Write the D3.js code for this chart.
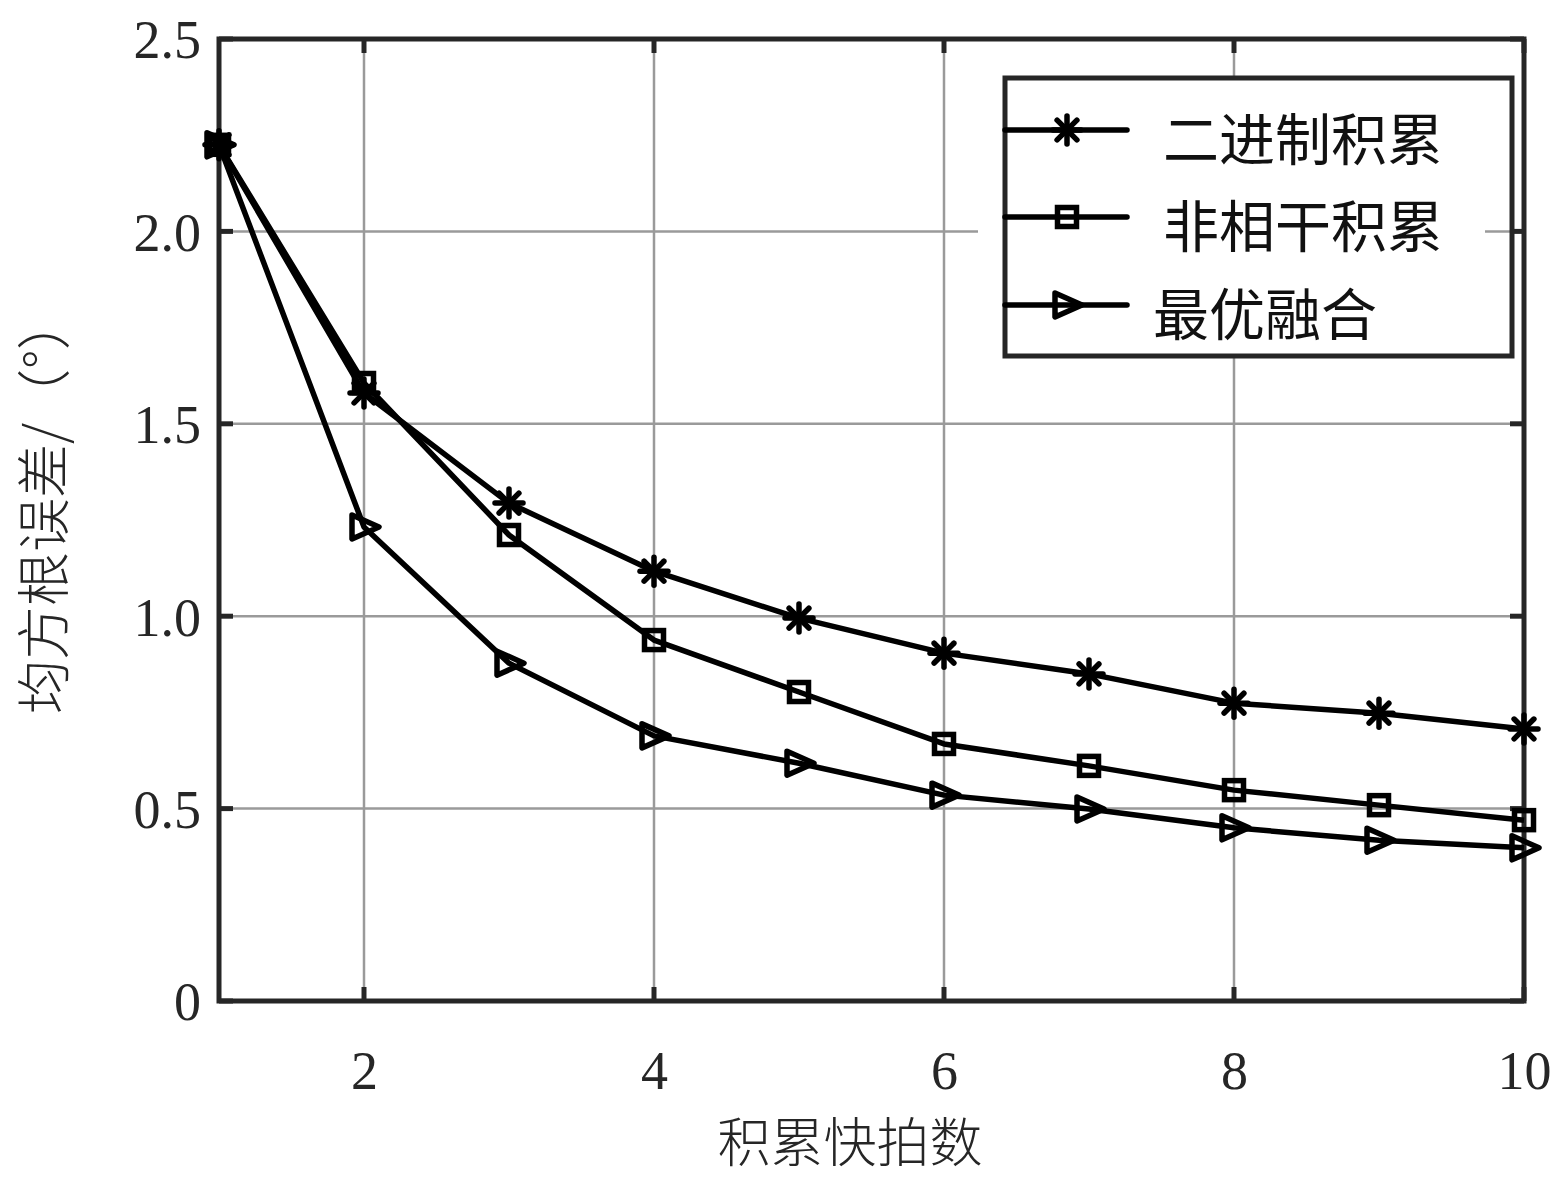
<!DOCTYPE html>
<html><head><meta charset="utf-8">
<script src="https://cdn.jsdelivr.net/npm/d3@7/dist/d3.min.js"></script>
<style>body{margin:0;background:#fff}</style>
</head><body>
<svg id="c" width="1556" height="1181"></svg>
<script>
const snapshots = [1,2,3,4,5,6,7,8,9,10];
const binaryAcc = [2.225,1.58,1.294,1.117,0.995,0.904,0.85,0.774,0.748,0.707];
const noncoherentAcc = [2.225,1.606,1.211,0.938,0.803,0.668,0.611,0.548,0.509,0.470];
const optimalFusion = [2.225,1.232,0.878,0.689,0.618,0.535,0.499,0.450,0.418,0.398];
const seriesNames = ["二进制积累","非相干积累","最优融合"];
const xTicks = [2,4,6,8,10];
const yTicks = [0,0.5,1.0,1.5,2.0,2.5];
const yTickLabels = ["0","0.5","1.0","1.5","2.0","2.5"];
const xLabel = "积累快拍数";
const yLabel = "均方根误差/（°）";

const svg = d3.select("#c");
const L=219,R=1524,T=39,B=1001;
const x = d3.scaleLinear().domain([1,10]).range([L,R]);
const y = d3.scaleLinear().domain([0,2.5]).range([B,T]);
const axisCol="#262626", gridCol="#9a9a9a";
const serif="'Liberation Serif','Times New Roman',serif";
const cjk="'Noto Sans CJK SC',sans-serif";
const lw=5.5;

// grid
const g = svg.append("g");
g.selectAll(".gx").data(xTicks).join("line").attr("x1",d=>x(d)).attr("x2",d=>x(d)).attr("y1",T).attr("y2",B).attr("stroke",gridCol).attr("stroke-width",2.5);
g.selectAll(".gy").data(yTicks.slice(1,-1)).join("line").attr("y1",d=>y(d)).attr("y2",d=>y(d)).attr("x1",L).attr("x2",R).attr("stroke",gridCol).attr("stroke-width",2.5);

// axes via d3 axis
const xAxB = d3.axisBottom(x).tickValues(xTicks).tickSize(0).tickFormat(d3.format("d"));
const xg = svg.append("g").attr("transform",`translate(0,${B})`).call(xAxB);
xg.select(".domain").remove();
xg.selectAll("text").attr("font-family",serif).attr("font-size",54).attr("fill",axisCol).attr("dy",0).attr("y",88);
const yAx = d3.axisLeft(y).tickValues(yTicks).tickSize(0).tickFormat((d,i)=>yTickLabels[i]);
const yg = svg.append("g").attr("transform",`translate(${L},0)`).call(yAx);
yg.select(".domain").remove();
yg.selectAll("text").attr("font-family",serif).attr("font-size",54).attr("fill",axisCol).attr("x",-18).attr("dy","0.35em");

// inward ticks
const tk=14;
xTicks.forEach(d=>{
  svg.append("line").attr("x1",x(d)).attr("x2",x(d)).attr("y1",B).attr("y2",B-tk).attr("stroke",axisCol).attr("stroke-width",5);
  svg.append("line").attr("x1",x(d)).attr("x2",x(d)).attr("y1",T).attr("y2",T+tk).attr("stroke",axisCol).attr("stroke-width",5);
});
yTicks.forEach(d=>{
  svg.append("line").attr("y1",y(d)).attr("y2",y(d)).attr("x1",L).attr("x2",L+tk).attr("stroke",axisCol).attr("stroke-width",5);
  svg.append("line").attr("y1",y(d)).attr("y2",y(d)).attr("x1",R).attr("x2",R-tk).attr("stroke",axisCol).attr("stroke-width",5);
});
svg.append("rect").attr("x",L).attr("y",T).attr("width",R-L).attr("height",B-T).attr("fill","none").attr("stroke",axisCol).attr("stroke-width",5);

// markers
function star(sel,cx,cy){const r=14;
  [0,45,90,135].forEach(a=>{const t=a*Math.PI/180;
    sel.append("line").attr("x1",cx-r*Math.cos(t)).attr("y1",cy-r*Math.sin(t)).attr("x2",cx+r*Math.cos(t)).attr("y2",cy+r*Math.sin(t)).attr("stroke","#000").attr("stroke-width",lw).attr("stroke-linecap","round");});}
function square(sel,cx,cy){const s=19;
  sel.append("rect").attr("x",cx-s/2).attr("y",cy-s/2).attr("width",s).attr("height",s).attr("fill","none").attr("stroke","#000").attr("stroke-width",lw);}
function tri(sel,cx,cy){const h=12;
  sel.append("path").attr("d",`M${cx-h},${cy-h}L${cx+h+3},${cy}L${cx-h},${cy+h}Z`).attr("fill","none").attr("stroke","#000").attr("stroke-width",lw).attr("stroke-linejoin","round");}
const markers=[star,square,tri];
const allSeries=[binaryAcc,noncoherentAcc,optimalFusion];
const line=d3.line().x((d,i)=>x(snapshots[i])).y(d=>y(d));
const dg=svg.append("g");
allSeries.forEach((s,k)=>{
  dg.append("path").attr("d",line(s)).attr("fill","none").attr("stroke","#000").attr("stroke-width",lw).attr("stroke-linejoin","round");
});
allSeries.forEach((s,k)=>{
  s.forEach((v,i)=>markers[k](dg,x(snapshots[i]),y(v)));
});

// legend
const lg=svg.append("g");
lg.append("rect").attr("x",978).attr("y",78).attr("width",507).attr("height",278).attr("fill","#fff");
lg.append("rect").attr("x",1005).attr("y",78).attr("width",507).attr("height",278).attr("fill","none").attr("stroke",axisCol).attr("stroke-width",5);
const rowsY=[130,217,305];
const textX=[1163,1163,1153];
seriesNames.forEach((n,k)=>{
  lg.append("line").attr("x1",1005).attr("x2",1127).attr("y1",rowsY[k]).attr("y2",rowsY[k]).attr("stroke","#000").attr("stroke-width",lw).attr("stroke-linecap","round");
  markers[k](lg,1067,rowsY[k]);
  lg.append("text").attr("x",textX[k]).attr("y",rowsY[k]+5).attr("dominant-baseline","central").attr("font-family",cjk).attr("font-weight",400).attr("font-size",56).attr("fill","#111").text(n);
});

// axis labels
svg.append("text").attr("x",850).attr("y",1162).attr("text-anchor","middle").attr("font-family",cjk).attr("font-weight",300).attr("font-size",53).attr("fill",axisCol).text(xLabel);
svg.append("text").attr("transform","translate(40,505) rotate(-90)").attr("text-anchor","middle").attr("dominant-baseline","central").attr("font-family",cjk).attr("font-weight",300).attr("font-size",54).attr("fill",axisCol).text(yLabel);
</script>
</body></html>
